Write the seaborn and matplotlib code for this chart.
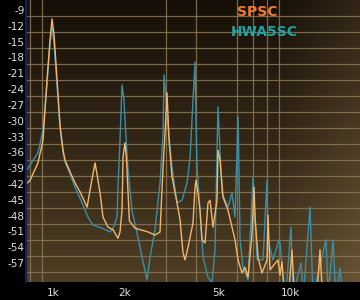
import numpy as np
import pandas as pd
import matplotlib
matplotlib.use("Agg")
import matplotlib.pyplot as plt
import seaborn as sns
from matplotlib.colors import to_rgb
from matplotlib.ticker import FixedLocator, NullFormatter

# ---------------- data ----------------
spsc_freq = [762, 800, 864, 907, 943, 971, 990, 1010, 1040, 1070, 1102, 1124, 1180, 1238,
             1300, 1392, 1445, 1504, 1535, 1579, 1625, 1706, 1792, 1880, 1917, 1955, 1974,
             2012, 2042, 2100, 2218, 2517, 2694, 2828, 2912, 2969, 3027, 3087, 3178, 3336,
             3435, 3536, 3606, 3712, 3896, 3973, 4012, 4090, 4171, 4253, 4379, 4508, 4597,
             4733, 4920, 4968, 5066, 5216, 5475, 5692, 5861, 6035, 6273, 6458, 6650, 6900,
             7051, 7119, 7329, 7617, 7998, 8075, 8235, 8400, 8898, 9074, 9253, 9435, 9900,
             10195, 10397, 11500, 13000, 13384, 13700, 20000]
spsc_db = [-42.2, -41.3, -38.0, -33.7, -22.3, -14.7, -10.7, -13.7, -22.3, -30.8, -35.6,
           -37.5, -39.7, -41.8, -43.5, -46.4, -42.2, -38.0, -40.3, -43.7, -48.3, -50.2,
           -50.7, -52.3, -51.1, -47.0, -36.9, -34.2, -37.5, -49.0, -50.4, -51.1, -51.7,
           -51.1, -38.8, -32.3, -24.7, -33.7, -40.7, -45.6, -48.8, -55.1, -56.4, -54.0,
           -49.4, -42.6, -41.3, -43.7, -47.0, -52.6, -53.2, -45.6, -45.1, -50.2, -45.1,
           -35.6, -37.5, -44.5, -47.0, -50.2, -52.6, -56.4, -58.9, -57.8, -59.7, -52.0,
           -42.6, -48.3, -55.9, -58.9, -56.4, -47.9, -58.3, -57.8, -56.4, -59.3, -56.8,
           -62.0, -62.0, -54.5, -62.0, -63.0, -63.0, -54.5, -63.0, -64.0]

hwa_freq = [762, 800, 864, 907, 943, 971, 990, 1010, 1040, 1070, 1102, 1124, 1180, 1238,
            1326, 1405, 1475, 1610, 1740, 1792, 1862, 1880, 1917, 1955, 1993, 2012, 2073,
            2154, 2262, 2375, 2493, 2566, 2694, 2828, 2912, 2941, 2998, 3057, 3178, 3336,
            3502, 3677, 3785, 3896, 3973, 4012, 4051, 4171, 4295, 4508, 4687, 4825, 4920,
            4968, 5066, 5166, 5475, 5692, 5861, 5976, 6035, 6093, 6152, 6334, 6650, 6983,
            7119, 7259, 7692, 7998, 8075, 8477, 8985, 9074, 9343, 9600, 10098, 10300, 11128,
            11400, 12146, 12500, 14186, 14500, 15185, 15600, 16255, 16700, 20000]
hwa_db = [-39.9, -38.4, -36.1, -31.8, -23.2, -15.6, -12.2, -15.6, -23.2, -31.4, -36.0,
          -37.8, -40.1, -42.6, -45.6, -48.3, -49.8, -50.4, -51.1, -50.4, -48.3, -42.6,
          -33.7, -23.2, -26.1, -29.9, -39.4, -47.0, -51.3, -55.9, -60.2, -55.9, -50.7,
          -41.8, -32.3, -21.3, -26.1, -31.2, -38.8, -45.6, -45.1, -41.8, -37.1, -26.1,
          -18.9, -29.9, -38.8, -47.0, -55.9, -59.7, -60.8, -54.5, -35.6, -27.4, -35.6,
          -43.7, -46.4, -43.7, -48.3, -35.6, -29.3, -39.4, -52.6, -57.8, -60.2, -40.7,
          -48.8, -56.4, -56.4, -41.3, -52.6, -56.4, -52.6, -53.2, -59.7, -63.0, -50.2,
          -63.0, -57.0, -63.0, -46.4, -63.0, -52.6, -63.0, -52.6, -63.0, -58.0, -64.0,
          -64.0]

series_names = ["SPSC", "HWA5SC"]
y_ticks = [-9, -12, -15, -18, -21, -24, -27, -30, -33, -36, -39, -42, -45, -48, -51, -54, -57]
x_grid = [800, 900, 1000, 2000, 3000, 4000, 5000, 6000, 7000, 8000, 9000, 10000]
x_ticks = [1000, 2000, 5000, 10000]
x_labels = ["1k", "2k", "5k", "10k"]

df = pd.concat([
    pd.DataFrame({"freq": spsc_freq, "db": spsc_db, "series": series_names[0]}),
    pd.DataFrame({"freq": hwa_freq, "db": hwa_db, "series": series_names[1]}),
], ignore_index=True)

# ---------------- styling ----------------
sns.set_style("dark")
plt.rcParams["font.family"] = ["DejaVu Sans"]

fig = plt.figure(figsize=(3.6, 3.0), dpi=100, facecolor="black")
ax = fig.add_axes([26 / 360, 18 / 300, 334 / 360, 282 / 300])
ax.set_facecolor("#2a1f12")

# background gradient (dark top -> brown bottom, lighter at right)
top = np.array(to_rgb("#170f07"))
bot = np.array(to_rgb("#4d3d24"))
ny, nx = 100, 100
vy = np.linspace(0, 1, ny)[:, None, None]
vx = np.linspace(0, 1, nx)[None, :, None]
img = top * (1 - vy) + bot * vy
img = img + 0.10 * np.clip((vx - 0.75) / 0.25, 0, 1) * np.array([1.0, 0.85, 0.6])
img = np.clip(img, 0, 1)
ax.imshow(img, extent=[0, 1, 0, 1], transform=ax.transAxes, aspect="auto", zorder=0)

palette = {"SPSC": "#f2b66c", "HWA5SC": "#3a8ea6"}
sns.lineplot(data=df, x="freq", y="db", hue="series", palette=palette, ax=ax,
             linewidth=1.0, sort=False, estimator=None, legend=False, zorder=3,
             hue_order=["HWA5SC", "SPSC"])

ax.set_xscale("log")
ax.set_xlim(769, 19740)
ax.set_ylim(-60.6, -7.1)

# ticks / grid
ax.yaxis.set_major_locator(FixedLocator(y_ticks))
ax.set_yticklabels([str(v) for v in y_ticks])
grid_db = [-9 - (6 + 16 * k) / 5.27 for k in range(17)]
ax.yaxis.set_minor_locator(FixedLocator(grid_db))
ax.yaxis.set_minor_formatter(NullFormatter())
ax.xaxis.set_major_locator(FixedLocator(x_ticks))
ax.set_xticklabels(x_labels)
ax.xaxis.set_minor_locator(FixedLocator(x_grid))
ax.xaxis.set_minor_formatter(NullFormatter())

ax.grid(False, which="major")
ax.grid(True, which="minor", color="#8a7856", linewidth=0.9, alpha=0.85, zorder=1)
ax.set_axisbelow(False)
for line in ax.get_lines():
    line.set_zorder(3)

ax.tick_params(axis="both", which="both", length=0)
ax.tick_params(axis="y", colors="#e0e0e0", labelsize=7.5, pad=1)
ax.tick_params(axis="x", colors="#e0e0e0", labelsize=7.5, pad=4)
ax.set_xlabel("")
ax.set_ylabel("")

for side in ["top", "right", "bottom"]:
    ax.spines[side].set_visible(False)
ax.spines["left"].set_color("#142060")
ax.spines["left"].set_linewidth(1.5)
ax.spines["left"].set_zorder(6)

ax.text(0.632, 0.957, "SPSC", transform=ax.transAxes, color="#f07a30",
        fontsize=10, fontweight="bold", ha="left", va="center", zorder=5)
ax.text(0.612, 0.886, "HWA5SC", transform=ax.transAxes, color="#1fa3a3",
        fontsize=10, fontweight="bold", ha="left", va="center", zorder=5)

fig.savefig("out.png", dpi=100, facecolor="black")
